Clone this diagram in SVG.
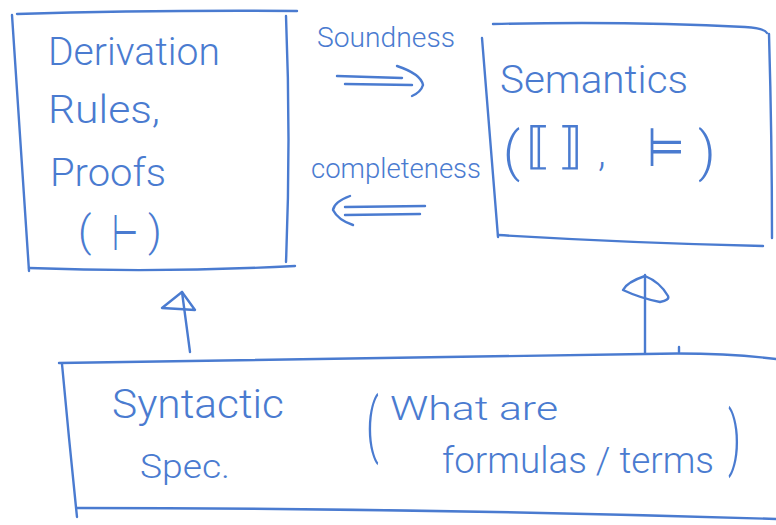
<svg xmlns="http://www.w3.org/2000/svg" width="776" height="525" viewBox="0 0 776 525">
  <style>
    .ink { fill: none; stroke: #4a7bd0; stroke-width: 2.4; stroke-linecap: round; stroke-linejoin: round; }
    .txt { fill: #4a7bd0; font-family: "Roboto", "Liberation Sans", "DejaVu Sans", sans-serif; font-weight: 300; }
    .sym { fill: #4a7bd0; font-family: "DejaVu Sans", "Liberation Sans", sans-serif; font-weight: 300; }
  </style>
  <rect width="776" height="525" fill="#ffffff"/>

  <!-- Derivation rules box -->
  <g id="node-derivation">
    <path class="ink" d="M17,14 Q150,10 297,11"/>
    <path class="ink" d="M12,15 Q20,140 29,271"/>
    <path class="ink" d="M29,268 Q160,273 295,266"/>
    <path class="ink" d="M286,16 Q291,140 286,262"/>
    <text class="txt" x="48" y="65" font-size="38" textLength="172" lengthAdjust="spacingAndGlyphs">Derivation</text>
    <text class="txt" x="48" y="123" font-size="38" textLength="112" lengthAdjust="spacingAndGlyphs">Rules,</text>
    <text class="txt" x="50" y="186" font-size="38" textLength="116" lengthAdjust="spacingAndGlyphs">Proofs</text>
    <text class="txt" x="78" y="246" font-size="42">(</text>
    <text class="sym" font-size="50" transform="translate(112,250) scale(0.6,1)">⊢</text>
    <text class="txt" x="148" y="246" font-size="42">)</text>
  </g>

  <!-- Semantics box -->
  <g id="node-semantics">
    <path class="ink" d="M493,24 Q630,21 745,27 Q764,28 767,33"/>
    <path class="ink" d="M482,38 Q490,140 498,237"/>
    <path class="ink" d="M498,235 Q630,243 763,246"/>
    <path class="ink" d="M769,34 Q772,140 772,238"/>
    <text class="txt" x="500" y="93" font-size="39" textLength="188" lengthAdjust="spacingAndGlyphs">Semantics</text>
    <text class="txt" x="503" y="170" font-size="54">(</text>
    <text class="sym" x="526" y="163" font-size="50">⟦</text>
    <text class="sym" x="558" y="163" font-size="50">⟧</text>
    <text class="txt" x="598" y="166" font-size="40">,</text>
    <text class="sym" font-size="54" transform="translate(647,166) scale(0.8,1)">⊨</text>
    <text class="txt" x="698" y="170" font-size="54">)</text>
  </g>

  <!-- Syntactic specification box -->
  <g id="node-syntax">
    <path class="ink" d="M59,363 Q350,358 645,354 Q720,352 776,359"/>
    <path class="ink" d="M62,364 Q69,440 77,517"/>
    <path class="ink" d="M77,508 Q420,508 776,519"/>
    <text class="txt" x="112" y="418" font-size="40" textLength="172" lengthAdjust="spacingAndGlyphs">Syntactic</text>
    <text class="txt" x="140" y="478" font-size="34" textLength="90" lengthAdjust="spacingAndGlyphs">Spec.</text>
    <text class="txt" font-size="40" transform="translate(366,449) scale(1,1.75)">(</text>
    <text class="txt" x="390" y="420" font-size="34" textLength="168" lengthAdjust="spacingAndGlyphs">What are</text>
    <text class="txt" x="442" y="473" font-size="36" textLength="272" lengthAdjust="spacingAndGlyphs">formulas / terms</text>
    <text class="txt" font-size="40" transform="translate(728,462) scale(1,1.75)">)</text>
  </g>

  <!-- Connectors -->
  <g id="connectors">
    <!-- soundness: derivation => semantics -->
    <g id="edge-soundness">
      <text class="txt" x="317" y="47" font-size="27" textLength="138" lengthAdjust="spacingAndGlyphs">Soundness</text>
      <path class="ink" d="M337,76 L402,78"/>
      <path class="ink" d="M345,84 L412,85"/>
      <path class="ink" d="M397,66 Q421,74 423,85 Q421,92 412,96"/>
    </g>
    <!-- completeness: semantics => derivation -->
    <g id="edge-completeness">
      <text class="txt" x="311" y="178" font-size="27" textLength="170" lengthAdjust="spacingAndGlyphs">completeness</text>
      <path class="ink" d="M345,207 L425,206"/>
      <path class="ink" d="M345,215 L420,214"/>
      <path class="ink" d="M350,196 Q334,202 333,210 Q338,220 353,225"/>
    </g>
    <!-- syntax -> derivation -->
    <g id="edge-syntax-derivation">
      <path class="ink" d="M182,292 L190,352"/>
      <path class="ink" d="M182,292 L162,308 Q180,309 195,310 Z"/>
    </g>
    <!-- syntax -> semantics -->
    <g id="edge-syntax-semantics">
      <path class="ink" d="M645,275 L645,353"/>
      <path class="ink" d="M645,276 Q627,282 623,290 Q640,298 660,302 Q670,300 668,296 Q660,282 645,276"/>
      <path class="ink" d="M679,347 L679,352"/>
    </g>
  </g>
</svg>
